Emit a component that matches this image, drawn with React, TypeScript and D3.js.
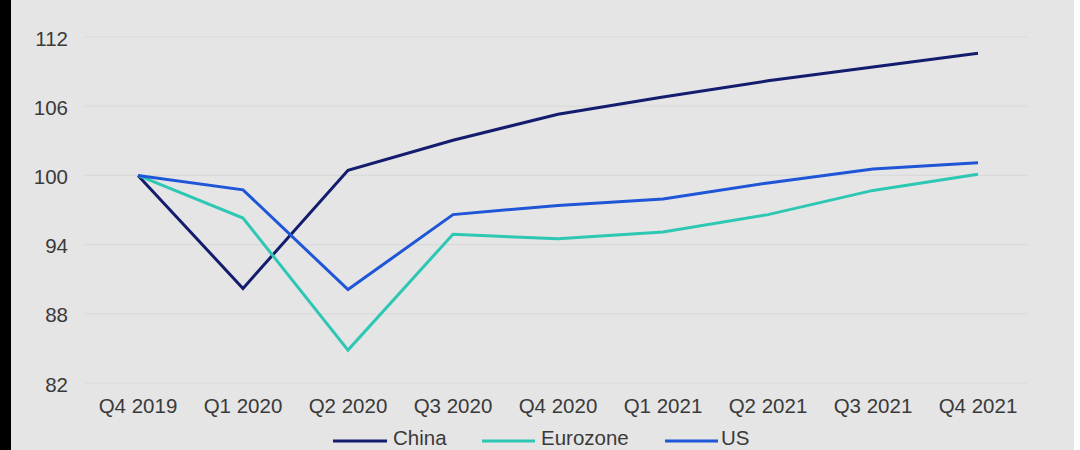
import React from "react";
import * as d3 from "d3";

const categories = ["Q4 2019", "Q1 2020", "Q2 2020", "Q3 2020", "Q4 2020", "Q1 2021", "Q2 2021", "Q3 2021", "Q4 2021"];
const china = [100, 90.2, 100.45, 103.05, 105.3, 106.8, 108.2, 109.4, 110.6];
const eurozone = [100, 96.3, 84.85, 94.9, 94.5, 95.1, 96.6, 98.7, 100.1];
const us = [100, 98.75, 90.1, 96.6, 97.4, 97.95, 99.35, 100.55, 101.1];
const yTicks = [82, 88, 94, 100, 106, 112];
const seriesNames = ["China", "Eurozone", "US"];
const seriesColors = ["#141c6e", "#2ec7b4", "#1f56d8"];

export default function App() {
  const W = 1080, H = 450;
  const x = d3.scalePoint<string>().domain(categories).range([138, 978]);
  const y = d3.scaleLinear().domain([82, 112]).range([383, 37]);
  const line = d3.line<number>().x((_, i) => x(categories[i]) as number).y((d) => y(d));
  const data = [china, eurozone, us];
  const font = "'Liberation Sans', Arial, sans-serif";
  const legendX = [333, 482, 665];
  const legendLen = [54, 53, 53];
  const legendText = [393, 541, 721];
  return (
    <svg width={W} height={H} style={{ position: "absolute", left: 0, top: 0 }} fontFamily={font}>
      <rect x={0} y={0} width={W} height={H} fill="#ffffff" />
      <rect x={0} y={0} width={1074} height={H} fill="#e5e5e5" />
      <rect x={0} y={0} width={11} height={H} fill="#000000" />
      {yTicks.map((t) => (
        <g key={t}>
          <line x1={85} x2={1027} y1={y(t)} y2={y(t)} stroke="#dadada" strokeWidth={1.2} />
          <text x={68} y={y(t) + 1} textAnchor="end" dominantBaseline="central" fontSize={20.5} fill="#3a3a3a">
            {t}
          </text>
        </g>
      ))}
      {categories.map((c) => (
        <text key={c} x={x(c)} y={413} textAnchor="middle" fontSize={20.5} fill="#3a3a3a">
          {c}
        </text>
      ))}
      {data.map((d, i) => (
        <path key={i} d={line(d) || ""} fill="none" stroke={seriesColors[i]} strokeWidth={3} strokeLinejoin="miter" />
      ))}
      {seriesNames.map((n, i) => (
        <g key={n}>
          <line x1={legendX[i]} x2={legendX[i] + legendLen[i]} y1={441} y2={441} stroke={seriesColors[i]} strokeWidth={3} />
          <text x={legendText[i]} y={445} fontSize={20.5} fill="#3a3a3a">
            {n}
          </text>
        </g>
      ))}
    </svg>
  );
}
